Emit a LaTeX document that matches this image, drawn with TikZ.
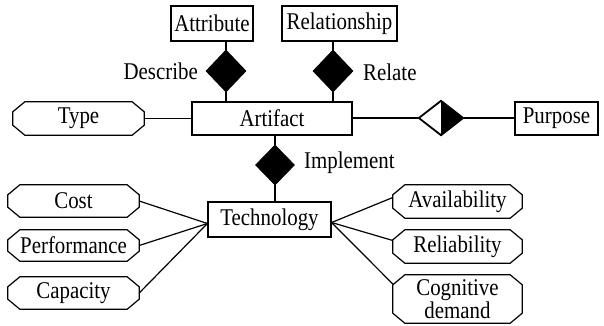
\documentclass[tikz,border=0pt]{standalone}
\usepackage{fontspec}
\setmainfont{Liberation Serif}[FakeStretch=0.87]
\usetikzlibrary{shapes.geometric}
\begin{document}
\begin{tikzpicture}[x=1pt,y=-1pt,
  every node/.style={font=\fontsize{24}{23}\selectfont},
  ln/.style={line width=1.2pt, black},
  entity/.style={draw, line width=1.2pt, inner sep=0pt, align=center},
  octline/.style={draw, line width=1.2pt},
  oct/.style={inner sep=0pt, align=center,
    append after command={\pgfextra{%
      \draw[octline]
        ([xshift=12pt]\tikzlastnode.north west) -- ([xshift=-12pt]\tikzlastnode.north east)
        -- ([yshift=-10pt]\tikzlastnode.north east) -- ([yshift=10pt]\tikzlastnode.south east)
        -- ([xshift=-12pt]\tikzlastnode.south east) -- ([xshift=12pt]\tikzlastnode.south west)
        -- ([yshift=10pt]\tikzlastnode.south west) -- ([yshift=-10pt]\tikzlastnode.north west)
        -- cycle;}}},
  rel/.style={diamond, fill=black, draw=black, line width=0.8pt, inner sep=0pt},
  lbl/.style={inner sep=0pt}
]
\useasboundingbox (0,0) rectangle (604,325);

% entities
\node[entity, minimum width=82pt, minimum height=35pt] (attr) at (212,23.5) {Attribute};
\node[entity, minimum width=115pt, minimum height=35pt] (relbox) at (339.5,23.5) {Relationship};
\node[entity, minimum width=160pt, minimum height=33pt] (art) at (272,118.5) {Artifact};
\node[entity, minimum width=83pt, minimum height=33pt] (purp) at (556.5,118.5) {Purpose};
\node[entity, minimum width=123pt, minimum height=35pt] (tech) at (269.5,219.5) {Technology};

% attribute octagons
\node[oct, minimum width=131pt, minimum height=33pt] (type) at (78.5,118.5) {Type};
\node[oct, minimum width=131pt, minimum height=32pt] (cost) at (73.5,201) {Cost};
\node[oct, minimum width=131pt, minimum height=31pt] (perf) at (73.5,245.5) {Performance};
\node[oct, minimum width=131pt, minimum height=32pt] (cap) at (73.5,293) {Capacity};
\node[oct, minimum width=129pt, minimum height=33pt] (avail) at (457.5,201.5) {Availability};
\node[oct, minimum width=129pt, minimum height=33pt] (relia) at (457.5,246.5) {Reliability};
\node[oct, minimum width=129pt, minimum height=48pt] (cog) at (457.5,299) {Cognitive\\demand};

% relationship diamonds
\node[rel, minimum width=40pt, minimum height=42pt] (desc) at (226,71) {};
\node[rel, minimum width=40pt, minimum height=42pt] (relt) at (333,71) {};
\node[rel, minimum width=39pt, minimum height=40pt] (impl) at (275,165) {};
\node[diamond, draw=black, fill=white, line width=1.2pt, inner sep=0pt,
      minimum width=44pt, minimum height=34pt] (pd) at (441,118) {};
\fill[black] (pd.north) -- (pd.east) -- (pd.south) -- cycle;
\draw[ln] (pd.north) -- (pd.east) -- (pd.south) -- (pd.west) -- cycle;

% relationship labels
\node[lbl, anchor=east] (ldesc) at (198,71) {Describe};
\node[lbl, anchor=west] (lrelt) at (363,72) {Relate};
\node[lbl, anchor=west] (limpl) at (304,163) {Implement};

% connectors
\draw[ln] (desc.north) -- (desc.north |- attr.south);
\draw[ln] (desc.south) -- (desc.south |- art.north);
\draw[ln] (relt.north) -- (relt.north |- relbox.south);
\draw[ln] (relt.south) -- (relt.south |- art.north);
\draw[ln] (impl.north) -- (impl.north |- art.south);
\draw[ln] (impl.south) -- (impl.south |- tech.north);
\draw[ln] (type.east) -- (type.east -| art.west);
\draw[ln] (art.east |- pd.west) -- (pd.west);
\draw[ln] (pd.east) -- (pd.east -| purp.west);

\coordinate (tw) at ([yshift=-4pt]tech.west);
\coordinate (te) at ([yshift=-3pt]tech.east);
\draw[ln] (cost.east) -- (tw);
\draw[ln] (perf.east) -- (tw);
\draw[ln] (cap.east) -- (tw);
\draw[ln] (te) -- ([yshift=4pt]avail.west);
\draw[ln] (te) -- ([yshift=6pt]relia.west);
\draw[ln] (te) -- ([yshift=15pt]cog.west);
\end{tikzpicture}
\end{document}
